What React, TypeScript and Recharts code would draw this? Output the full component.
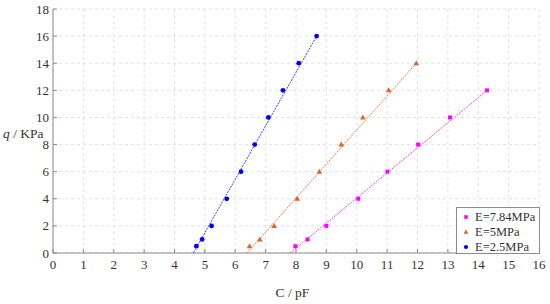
import React from 'react';
import { ScatterChart, Scatter, XAxis, YAxis, CartesianGrid, Legend } from 'recharts';

const xTicks = [0, 1, 2, 3, 4, 5, 6, 7, 8, 9, 10, 11, 12, 13, 14, 15, 16];
const yTicks = [0, 2, 4, 6, 8, 10, 12, 14, 16, 18];

const blueC = [4.72, 4.91, 5.22, 5.72, 6.19, 6.64, 7.09, 7.57, 8.09, 8.68];
const blueQ = [0.5, 1, 2, 4, 6, 8, 10, 12, 14, 16];
const orangeC = [6.47, 6.81, 7.28, 8.04, 8.77, 9.49, 10.2, 11.05, 11.96];
const orangeQ = [0.5, 1, 2, 4, 6, 8, 10, 12, 14];
const magentaC = [7.98, 8.38, 9.0, 10.05, 11.01, 12.02, 13.07, 14.29];
const magentaQ = [0.5, 1, 2, 4, 6, 8, 10, 12];

const blueFitC = [4.62, 8.68];
const blueFitQ = [0, 16];
const orangeFitC = [6.39, 11.96];
const orangeFitQ = [0, 14];
const magentaFitC = [7.81, 14.29];
const magentaFitQ = [0, 12];

const legendNames = ['E=7.84MPa', 'E=5MPa', 'E=2.5MPa'];

const BLUE = '#0000ff';
const ORANGE = '#e0622a';
const MAGENTA = '#ff00ff';
const FONT = 'Liberation Serif';
const TEXT = '#333333';
const AXIS = '#8c8c8c';

const zip = (c: number[], q: number[]) => c.map((v, i) => ({ x: v, y: q[i] }));

const blueData = zip(blueC, blueQ);
const orangeData = zip(orangeC, orangeQ);
const magentaData = zip(magentaC, magentaQ);
const blueFit = zip(blueFitC, blueFitQ);
const orangeFit = zip(orangeFitC, orangeFitQ);
const magentaFit = zip(magentaFitC, magentaFitQ);

const Circle = (p: any) => <circle cx={p.cx} cy={p.cy} r={2.4} fill={BLUE} />;
const Tri = (p: any) => (
  <polygon
    points={`${p.cx},${p.cy - 3} ${p.cx - 2.8},${p.cy + 2} ${p.cx + 2.8},${p.cy + 2}`}
    fill={ORANGE}
  />
);
const Sq = (p: any) => <rect x={p.cx - 2} y={p.cy - 2} width={4} height={4} fill={MAGENTA} />;
const Nothing = () => <g />;

const XTick = (p: any) => (
  <text x={p.x} y={p.y} dy="0.75em" textAnchor="middle" fill={TEXT} fontFamily={FONT} fontSize={13}>
    {p.payload.value}
  </text>
);
const YTick = (p: any) => (
  <text x={p.x} y={p.y} dy="0.35em" textAnchor="end" fill={TEXT} fontFamily={FONT} fontSize={13}>
    {p.payload.value}
  </text>
);

const markers = [
  (x: number, y: number) => <rect x={x - 1.8} y={y - 1.8} width={3.6} height={3.6} fill={MAGENTA} />,
  (x: number, y: number) => (
    <polygon points={`${x},${y - 2.6} ${x - 2.4},${y + 1.8} ${x + 2.4},${y + 1.8}`} fill={ORANGE} />
  ),
  (x: number, y: number) => <circle cx={x} cy={y} r={2.1} fill={BLUE} />,
];

const LegendBox = () => (
  <div
    style={{
      width: 84,
      height: 47,
      border: '1px solid #8c8c8c',
      background: '#fff',
      boxSizing: 'border-box',
      fontFamily: FONT,
      fontSize: 12.5,
      color: TEXT,
      paddingTop: 1,
      overflow: 'hidden',
    }}
  >
    {legendNames.map((n, i) => (
      <div key={n} style={{ height: 15, display: 'flex', alignItems: 'center', overflow: 'hidden' }}>
        <svg width={18} height={14} style={{ flex: 'none' }}>
          {markers[i](9, 7)}
        </svg>
        <span style={{ lineHeight: '14px', height: 14, whiteSpace: 'nowrap' }}>{n}</span>
      </div>
    ))}
  </div>
);

const YLabel = () => (
  <text x={3} y={137.5} fill={TEXT} fontFamily={FONT} fontSize={13.5}>
    <tspan fontStyle="italic">q</tspan>
    <tspan> / KPa</tspan>
  </text>
);

const XLabel = () => (
  <text x={292.5} y={297} textAnchor="middle" fill={TEXT} fontFamily={FONT} fontSize={13.5}>
    C / pF
  </text>
);

export default function App() {
  return (
    <div
      style={{
        position: 'absolute',
        left: 0,
        top: 0,
        width: 550,
        height: 304,
        background: '#fff',
        fontFamily: FONT,
      }}
    >
      <ScatterChart width={550} height={304} margin={{ top: 9, right: 11, bottom: 0, left: 0 }}>
        <CartesianGrid stroke="#e2e2e2" strokeDasharray="3 3" />
        <XAxis
          type="number"
          dataKey="x"
          domain={[0, 16]}
          ticks={xTicks}
          interval={0}
          height={51}
          allowDataOverflow
          axisLine={{ stroke: AXIS }}
          tickLine={{ stroke: AXIS }}
          tickSize={-4}
          tickMargin={10}
          tick={<XTick />}
          label={<XLabel />}
        />
        <XAxis
          xAxisId="top"
          type="number"
          dataKey="x"
          domain={[0, 16]}
          ticks={xTicks}
          interval={0}
          orientation="top"
          height={0}
          axisLine={{ stroke: AXIS }}
          tickLine={{ stroke: AXIS }}
          tickSize={-4}
          tick={false}
          allowDataOverflow
        />
        <YAxis
          type="number"
          dataKey="y"
          domain={[0, 18]}
          ticks={yTicks}
          interval={0}
          width={53}
          allowDataOverflow
          axisLine={{ stroke: AXIS }}
          tickLine={{ stroke: AXIS }}
          tickSize={-4}
          tickMargin={8}
          tick={<YTick />}
          label={<YLabel />}
        />
        <YAxis
          yAxisId="right"
          type="number"
          dataKey="y"
          domain={[0, 18]}
          ticks={yTicks}
          interval={0}
          orientation="right"
          width={0}
          axisLine={{ stroke: AXIS }}
          tickLine={{ stroke: AXIS }}
          tickSize={-4}
          tick={false}
          allowDataOverflow
        />
        <Scatter
          data={blueFit}
          line={{ stroke: BLUE, strokeWidth: 1, strokeDasharray: '2 1', strokeOpacity: 0.75 }}
          shape={<Nothing />}
          legendType="none"
          isAnimationActive={false}
        />
        <Scatter
          data={orangeFit}
          line={{ stroke: ORANGE, strokeWidth: 1, strokeDasharray: '2 1', strokeOpacity: 0.8 }}
          shape={<Nothing />}
          legendType="none"
          isAnimationActive={false}
        />
        <Scatter
          data={magentaFit}
          line={{ stroke: MAGENTA, strokeWidth: 1, strokeDasharray: '2 1', strokeOpacity: 0.75 }}
          shape={<Nothing />}
          legendType="none"
          isAnimationActive={false}
        />
        <Scatter name={legendNames[2]} data={blueData} shape={<Circle />} isAnimationActive={false} />
        <Scatter name={legendNames[1]} data={orangeData} shape={<Tri />} isAnimationActive={false} />
        <Scatter name={legendNames[0]} data={magentaData} shape={<Sq />} isAnimationActive={false} />
        <Legend
          layout="horizontal"
          verticalAlign="middle"
          align="center"
          content={<LegendBox />}
          wrapperStyle={{ position: 'absolute', left: 456, top: 207, width: 84, height: 47 }}
        />
      </ScatterChart>
    </div>
  );
}
